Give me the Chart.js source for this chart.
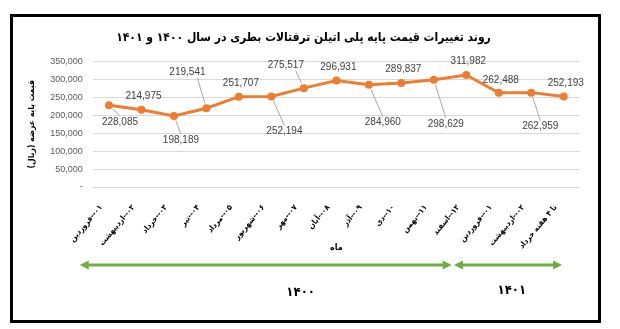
<!DOCTYPE html>
<html>
<head>
<meta charset="utf-8">
<script src="https://cdn.jsdelivr.net/npm/chart.js@4/dist/chart.umd.min.js"></script>
<style>
  html, body { margin: 0; padding: 0; background: #fff; }
  #wrap { position: relative; width: 620px; height: 329px; }
  #frame { position: absolute; left: 10px; top: 14px; width: 585px; height: 303px; border: 3px solid #000; }
  canvas { position: absolute; left: 0; top: 0; }
</style>
</head>
<body>
<div id="wrap">
  <div id="frame"></div>
  <canvas id="chart" width="620" height="329" dir="rtl"></canvas>
</div>
<script>
// months of 1400 and the first weeks of 1401
const months = [
  "۰۱--فروردین", "۰۲--اردیبهشت", "۰۳--خرداد", "۰۴--تیر", "۰۵--مرداد",
  "۰۶--شهریور", "۰۷--مهر", "۰۸--آبان", "۰۹--آذر", "۱۰--دی",
  "۱۱--بهمن", "۱۲--اسفند", "۰۱--فروردین", "۰۲--اردیبهشت", "تا ۴ هفته خرداد"
];
const prices = [
  228085, 214975, 198189, 219541, 251707, 252194, 275517, 296931,
  284960, 289837, 298629, 311982, 262488, 262959, 252193
];
const yearNames = ["۱۴۰۰", "۱۴۰۱"];

const chartTitle = "روند تغییرات قیمت پایه پلی اتیلن ترفتالات بطری در سال ۱۴۰۰ و ۱۴۰۱";
const yTitle = "قیمت پایه عرضه (ریال)";
const xTitle = "ماه";

const faFont = "'DejaVu Sans Condensed', 'DejaVu Sans'";

// where each value label sits relative to its point (px), and whether it has a leader line
const labelPlace = [
  { dx: 11, dy: 17, line: true }, { dx: 2, dy: -14, line: false },
  { dx: 7, dy: 24, line: true }, { dx: -19, dy: -36, line: true },
  { dx: 2, dy: -13, line: false }, { dx: 13, dy: 35, line: true },
  { dx: -18, dy: -23, line: true }, { dx: 2, dy: -13, line: false },
  { dx: 14, dy: 38, line: true }, { dx: 2, dy: -14, line: false },
  { dx: 12, dy: 44, line: true }, { dx: 2, dy: -14, line: false },
  { dx: 2, dy: -13, line: false }, { dx: 9, dy: 34, line: true },
  { dx: 2, dy: -13, line: false }
];

function fmt(v) {
  return v.toLocaleString("en-US");
}

// value labels with grey leader lines
const valueLabels = {
  id: "valueLabels",
  afterDatasetsDraw(chart) {
    const ctx = chart.ctx;
    const pts = chart.getDatasetMeta(0).data;
    ctx.save();
    ctx.font = "10px 'Liberation Sans'";
    ctx.fillStyle = "#404040";
    ctx.textAlign = "center";
    ctx.textBaseline = "middle";
    pts.forEach((p, i) => {
      const lp = labelPlace[i];
      const lx = p.x + lp.dx;
      const ly = p.y + lp.dy;
      if (lp.line) {
        let ex = lx, ey = ly - 6;
        if (lp.dy < 0) { ex = lx + 10; ey = ly + 6; }
        const len = Math.hypot(ex - p.x, ey - p.y);
        const sx = p.x + (ex - p.x) / len * 5;
        const sy = p.y + (ey - p.y) / len * 5;
        ctx.strokeStyle = "#a6a6a6";
        ctx.lineWidth = 1;
        ctx.beginPath();
        ctx.moveTo(sx, sy);
        ctx.lineTo(ex, ey);
        ctx.stroke();
      }
      ctx.fillText(fmt(prices[i]), lx, ly);
    });
    ctx.restore();
  }
};

// green double arrows under the axis marking the two years
function doubleArrow(ctx, x1, x2, y) {
  ctx.beginPath();
  ctx.moveTo(x1 + 6, y);
  ctx.lineTo(x2 - 6, y);
  ctx.stroke();
  ctx.beginPath();
  ctx.moveTo(x1, y);
  ctx.lineTo(x1 + 9, y - 4.5);
  ctx.lineTo(x1 + 9, y + 4.5);
  ctx.closePath();
  ctx.fill();
  ctx.beginPath();
  ctx.moveTo(x2, y);
  ctx.lineTo(x2 - 9, y - 4.5);
  ctx.lineTo(x2 - 9, y + 4.5);
  ctx.closePath();
  ctx.fill();
}

const yearArrows = {
  id: "yearArrows",
  afterDraw(chart) {
    const ctx = chart.ctx;
    const xs = chart.scales.x;
    const y = chart.height - 64;
    ctx.save();
    ctx.strokeStyle = "#70ad47";
    ctx.fillStyle = "#70ad47";
    ctx.lineWidth = 3;
    doubleArrow(ctx, xs.getPixelForValue(-0.9), xs.getPixelForValue(10.55), y);
    doubleArrow(ctx, xs.getPixelForValue(10.62), xs.getPixelForValue(13.95), y);
    ctx.fillStyle = "#000";
    ctx.font = "bold 13px " + faFont;
    ctx.textAlign = "center";
    ctx.textBaseline = "middle";
    ctx.fillText(yearNames[0], xs.getPixelForValue(5.9), y + 28);
    ctx.fillText(yearNames[1], xs.getPixelForValue(12.4), y + 26);
    ctx.restore();
  }
};

new Chart(document.getElementById("chart"), {
  type: "line",
  data: {
    labels: months,
    datasets: [{
      data: prices,
      borderColor: "#ed7d31",
      backgroundColor: "#ed7d31",
      borderWidth: 3,
      pointRadius: 4,
      pointBorderWidth: 0,
      tension: 0
    }]
  },
  options: {
    responsive: false,
    animation: false,
    layout: { padding: { top: 31, left: 27, right: 40, bottom: 76 } },
    plugins: {
      legend: { display: false },
      tooltip: { enabled: false },
      title: {
        display: true,
        text: chartTitle,
        color: "#000",
        font: { family: faFont, size: 12, weight: "bold" },
        padding: { top: 0, bottom: 16 }
      }
    },
    scales: {
      x: {
        offset: true,
        grid: { display: false },
        border: { display: false },
        afterFit: (scale) => { scale.height = 66; },
        ticks: {
          color: "#000",
          font: { family: faFont, size: 8, weight: "bold" },
          minRotation: 50,
          maxRotation: 50,
          autoSkip: false,
          labelOffset: -8,
          padding: 8
        },
        title: {
          display: true,
          text: xTitle,
          color: "#000",
          font: { family: faFont, size: 9, weight: "bold" },
          padding: { top: 2, bottom: 0 }
        }
      },
      y: {
        min: 0,
        max: 350000,
        grid: { color: "#d9d9d9", drawTicks: false },
        border: { display: false },
        ticks: {
          stepSize: 50000,
          color: "#595959",
          font: { family: "'Liberation Sans'", size: 9 },
          padding: 10,
          callback: (v) => (v === 0 ? "-" : fmt(v))
        },
        title: {
          display: true,
          text: yTitle,
          color: "#000",
          font: { family: faFont, size: 8.5, weight: "bold" },
          padding: { top: 0, bottom: 3 }
        }
      }
    }
  },
  plugins: [valueLabels, yearArrows]
});
</script>
</body>
</html>
